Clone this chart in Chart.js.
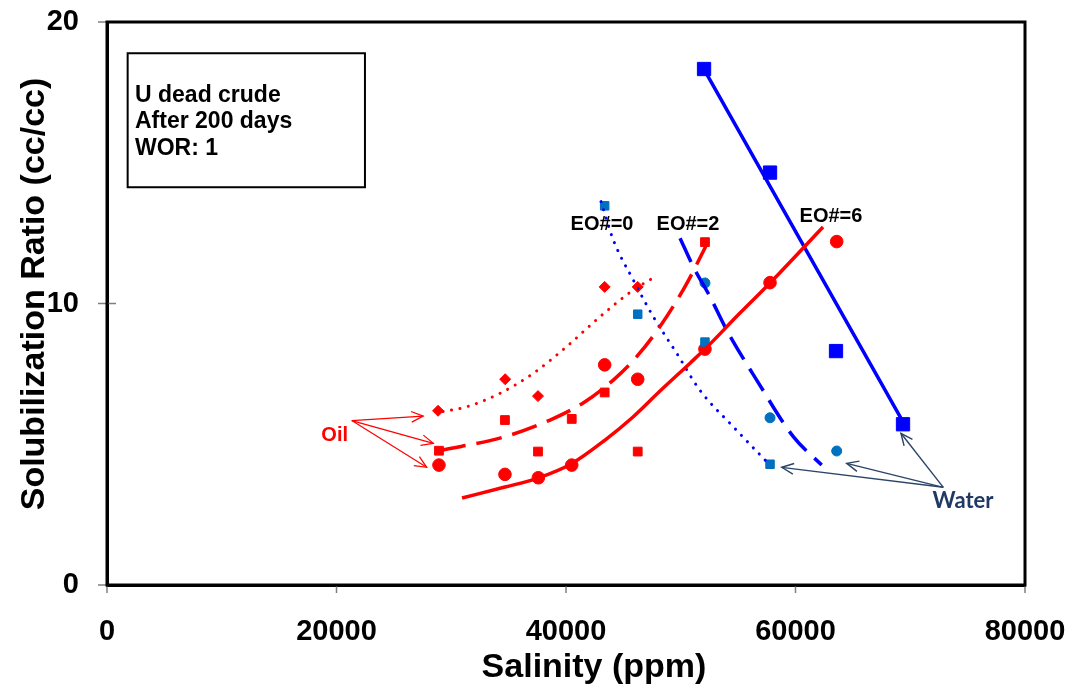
<!DOCTYPE html>
<html><head><meta charset="utf-8">
<script src="https://cdn.jsdelivr.net/npm/chart.js@4.4.1/dist/chart.umd.min.js"></script>
<style>html,body{margin:0;padding:0;background:#fff;overflow:hidden}</style>
</head><body>
<canvas id="c" width="1074" height="692"></canvas>
<script>
// ---------- tick labels ----------
const xTicks = [0, 20000, 40000, 60000, 80000];
const yTicks = [0, 10, 20];

// ---------- measured points: oil (red) ----------
const oilEO0X = [28850, 34700, 37560, 43370, 46250];
const oilEO0Y = [6.19, 7.31, 6.71, 10.59, 10.59];
const oilEO2X = [28930, 34680, 37560, 40500, 43370, 46250, 52110];
const oilEO2Y = [4.77, 5.86, 4.74, 5.90, 6.84, 4.74, 12.18];
const oilEO6X = [28930, 34680, 37590, 40500, 43370, 46250, 52110, 57780, 63590];
const oilEO6Y = [4.26, 3.93, 3.81, 4.26, 7.82, 7.31, 8.38, 10.74, 12.20];

// ---------- measured points: water (blue) ----------
const watEO0X = [43370, 46250, 52110, 57780];
const watEO0Y = [13.47, 9.62, 8.63, 4.29];
const watEO2X = [52110, 57780, 63590];
const watEO2Y = [10.73, 5.94, 4.76];
const watEO6X = [52030, 57780, 63530, 69370];
const watEO6Y = [18.33, 14.65, 8.31, 5.71];

// ---------- trend curves ----------
const trOil0X = [29280, 31340, 34250, 37150, 40060, 42960, 45870, 47760];
const trOil0Y = [6.16, 6.33, 6.81, 7.52, 8.47, 9.53, 10.48, 10.95];
const trOil2X = [29020, 34540, 38610, 41660, 44120, 46160, 48190, 50370, 52810];
const trOil2Y = [4.78, 5.25, 5.86, 6.51, 7.28, 8.11, 9.18, 10.60, 12.54];
const trOil6X = [30940, 34680, 37560, 40440, 43400, 45840, 48190, 50810, 52110, 55160, 57780, 62400];
const trOil6Y = [3.09, 3.48, 3.80, 4.30, 5.15, 5.97, 6.89, 7.88, 8.38, 9.66, 10.73, 12.72];
const trWat0X = [43050, 44120, 45870, 47610, 49650, 51650, 54580, 57490];
const trWat0Y = [13.62, 12.26, 10.83, 9.53, 8.23, 6.93, 5.62, 4.38];
const trWat2X = [49940, 51090, 52550, 54000, 56620, 59810, 62280];
const trWat2Y = [12.32, 11.31, 10.24, 9.06, 7.28, 5.27, 4.26];
const trWat6X = [52030, 69540];
const trWat6Y = [18.32, 5.67];

// ---------- annotation texts ----------
const boxLines = ['U dead crude', 'After 200 days', 'WOR: 1'];
const eoLabels = ['EO#=0', 'EO#=2', 'EO#=6'];

const pts = (xs, ys) => xs.map((v, i) => ({x: v, y: ys[i]}));
const RED = '#FF0000', BLUE = '#0000FF', LBLUE = '#0070C0';
const FONT = "'Liberation Sans', Arial, sans-serif";
const AREA = {left: 107, top: 22, right: 1025, bottom: 585};

function trend(xs, ys, color, dash, width) {
  return {
    type: 'line', data: pts(xs, ys), borderColor: color, borderWidth: width,
    borderDash: dash, borderCapStyle: dash.length && dash[0] < 1 ? 'round' : 'butt',
    pointRadius: 0, pointHoverRadius: 0, fill: false, showLine: true,
    cubicInterpolationMode: 'monotone'
  };
}
function marks(xs, ys, color, style, r) {
  return {
    type: 'scatter', data: pts(xs, ys), pointStyle: style, pointRadius: r,
    pointHoverRadius: r, backgroundColor: color, borderColor: color, pointBorderWidth: 1,
    showLine: false
  };
}

const annot = {
  id: 'annot',
  afterDatasetsDraw(chart) {
    const {ctx, chartArea: a, scales: {x, y}} = chart;
    const px = v => x.getPixelForValue(v), py = v => y.getPixelForValue(v);
    ctx.save();
    // tick marks (y: crossing the axis, x: outward)
    ctx.strokeStyle = '#7f7f7f'; ctx.lineWidth = 1.5;
    yTicks.forEach(v => {
      const yy = py(v);
      ctx.beginPath(); ctx.moveTo(a.left - 9, yy);
      ctx.lineTo(yy > a.top + 3 && yy < a.bottom - 3 ? a.left + 9 : a.left, yy); ctx.stroke();
    });
    xTicks.forEach(v => {
      const xx = px(v);
      ctx.beginPath(); ctx.moveTo(xx, a.bottom); ctx.lineTo(xx, a.bottom + 8); ctx.stroke();
    });
    // frame
    ctx.strokeStyle = '#000'; ctx.lineWidth = 3;
    ctx.strokeRect(a.left, a.top, a.right - a.left, a.bottom - a.top);
    // text box
    ctx.strokeStyle = '#000'; ctx.lineWidth = 2;
    const bx0 = px(1800), bx1 = px(22480), by0 = py(18.89), by1 = py(14.13);
    ctx.strokeRect(bx0, by0, bx1 - bx0, by1 - by0);
    ctx.fillStyle = '#000'; ctx.font = `bold 23px ${FONT}`;
    ctx.textAlign = 'left'; ctx.textBaseline = 'alphabetic';
    const baseY = [17.17, 16.23, 15.28];
    boxLines.forEach((t, i) => ctx.fillText(t, px(2440), py(baseY[i])));
    // EO labels
    ctx.font = `bold 20px ${FONT}`; ctx.textAlign = 'center'; ctx.textBaseline = 'middle';
    const eoPos = [[43140, 12.82], [50630, 12.82], [63090, 13.08]];
    eoLabels.forEach((t, i) => ctx.fillText(t, px(eoPos[i][0]), py(eoPos[i][1])));
    // Oil label + arrows
    ctx.fillStyle = RED; ctx.fillText('Oil', px(19840), py(5.30));
    function arrow(x0, y0, x1, y1, color, lw) {
      const X0 = px(x0), Y0 = py(y0), X1 = px(x1), Y1 = py(y1);
      const ang = Math.atan2(Y1 - Y0, X1 - X0), L = 13, h = 0.42;
      ctx.strokeStyle = color; ctx.lineWidth = lw;
      ctx.beginPath(); ctx.moveTo(X0, Y0); ctx.lineTo(X1, Y1); ctx.stroke();
      ctx.beginPath();
      ctx.moveTo(X1 - L * Math.cos(ang - h), Y1 - L * Math.sin(ang - h));
      ctx.lineTo(X1, Y1);
      ctx.lineTo(X1 - L * Math.cos(ang + h), Y1 - L * Math.sin(ang + h));
      ctx.stroke();
    }
    const oilFrom = [21330, 5.84];
    [[27560, 6.00], [28440, 5.03], [27860, 4.18]].forEach(t => arrow(oilFrom[0], oilFrom[1], t[0], t[1], RED, 1.2));
    // Water label + arrows
    const watFrom = [72880, 3.47];
    [[58800, 4.18], [64460, 4.32], [69190, 5.39]].forEach(t => arrow(watFrom[0], watFrom[1], t[0], t[1], '#2B4468', 1.4));
    ctx.fillStyle = '#1F3864'; ctx.font = "bold 22px Lato, 'Open Sans', sans-serif";
    ctx.fillText('Water', px(74600), py(2.98));
    // axis titles
    ctx.fillStyle = '#000'; ctx.font = `bold 34px ${FONT}`;
    ctx.fillText('Salinity (ppm)', 594, 668);
    ctx.translate(35, 294); ctx.rotate(-Math.PI / 2);
    ctx.fillText('Solubilization Ratio (cc/cc)', 0, 0);
    ctx.restore();
  }
};

Chart.defaults.font.family = FONT;
const chart = new Chart(document.getElementById('c'), {
  type: 'scatter',
  data: {
    datasets: [
      trend(trOil0X, trOil0Y, RED, [0.1, 8.5], 3),
      trend(trOil2X, trOil2Y, RED, [26, 11], 3.5),
      trend(trOil6X, trOil6Y, RED, [], 3.5),
      trend(trWat0X, trWat0Y, BLUE, [0.1, 8.5], 3),
      trend(trWat2X, trWat2Y, BLUE, [26, 11], 3.5),
      trend(trWat6X, trWat6Y, BLUE, [], 3.5),
      marks(watEO6X, watEO6Y, BLUE, 'rect', 9.4),
      marks(watEO0X, watEO0Y, LBLUE, 'rect', 6),
      marks(watEO2X, watEO2Y, LBLUE, 'circle', 5),
      marks(oilEO0X, oilEO0Y, RED, 'rectRot', 5.5),
      marks(oilEO2X, oilEO2Y, RED, 'rect', 6.2),
      marks(oilEO6X, oilEO6Y, RED, 'circle', 6.3)
    ]
  },
  options: {
    responsive: false, animation: false, devicePixelRatio: 1,
    layout: {padding: {top: 22, right: 49, bottom: 0, left: 0}},
    plugins: {legend: {display: false}, tooltip: {enabled: false}},
    scales: {
      x: {
        type: 'linear', min: 0, max: 80000,
        afterBuildTicks: s => { s.ticks = xTicks.map(v => ({value: v})); },
        afterFit: s => { s.height = 107; },
        ticks: {callback: v => String(v), color: '#000', padding: 0, maxRotation: 0, autoSkip: false,
                font: {family: FONT, size: 29, weight: 'bold'}},
        grid: {display: false, drawTicks: true, tickLength: 30},
        border: {display: true, color: '#000', width: 3},
        title: {display: false}
      },
      y: {
        type: 'linear', min: 0, max: 20,
        afterBuildTicks: s => { s.ticks = yTicks.map(v => ({value: v})); },
        afterFit: s => { s.width = 107; },
        ticks: {callback: v => String(v), color: '#000', padding: 0, autoSkip: false,
                font: {family: FONT, size: 29, weight: 'bold'}},
        grid: {display: false, drawTicks: true, tickLength: 28},
        border: {display: true, color: '#000', width: 3},
        title: {display: false}
      }
    }
  },
  plugins: [annot]
});
// nudge layout padding so the plot area lands where the reference has it
const pad = {top: 22, right: 49, bottom: 0, left: 0};
for (let k = 0; k < 5; k++) {
  const ca = chart.chartArea;
  const dt = AREA.top - ca.top, dr = ca.right - AREA.right, db = ca.bottom - AREA.bottom, dl = AREA.left - ca.left;
  if (Math.abs(dt) + Math.abs(dr) + Math.abs(db) + Math.abs(dl) < 0.5) break;
  pad.top += dt; pad.right += dr; pad.bottom += db; pad.left += dl;
  chart.config.options.layout.padding = Object.assign({}, pad);
  chart.update();
}
</script>
</body></html>
